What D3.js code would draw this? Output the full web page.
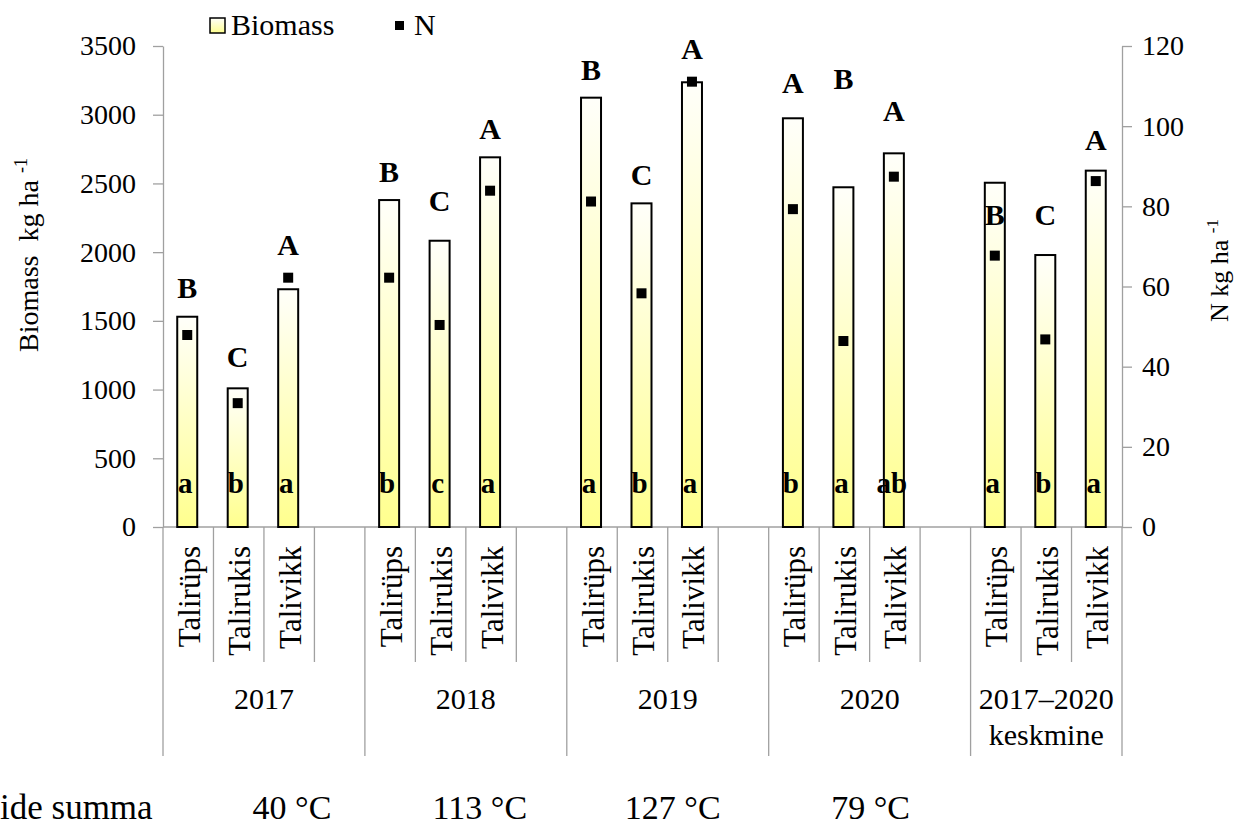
<!DOCTYPE html>
<html>
<head>
<meta charset="utf-8">
<script src="https://cdn.jsdelivr.net/npm/d3@7/dist/d3.min.js"></script>
<style>
    html, body { margin: 0; padding: 0; background: #fff; }
    svg { display: block; }
</style>
</head>
<body>
<div id="chart"></div>
<script>
// Data
const groups = ['2017', '2018', '2019', '2020', '2017–2020'];
const groupSub = ['', '', '', '', 'keskmine'];
const crops = ['Talirüps', 'Talirukis', 'Talivikk'];

// Biomass kg ha-1, one row per group
const biomass = [
    [1530, 1009, 1730],
    [2379, 2083, 2690],
    [3124, 2355, 3236],
    [2974, 2472, 2719],
    [2505, 1979, 2593]
];

// N kg ha-1
const nitrogen = [
    [47.9, 30.9, 62.2],
    [62.2, 50.4, 83.9],
    [81.2, 58.3, 111.1],
    [79.3, 46.4, 87.4],
    [67.7, 46.8, 86.3]
];

// Significance letters (upper = N, lower = biomass)
const upperLetters = [
    ['B', 'C', 'A'],
    ['B', 'C', 'A'],
    ['B', 'C', 'A'],
    ['A', 'B', 'A'],
    ['B', 'C', 'A']
];
// Level (biomass axis) where each upper letter sits
const upperAt = [
    [1739, 1239, 2052],
    [2585, 2372, 2901],
    [3330, 2561, 3483],
    [3229, 3258, 3027],
    [2270, 2275, 2816]
];
const lowerLetters = [
    ['a', 'b', 'a'],
    ['b', 'c', 'a'],
    ['a', 'b', 'a'],
    ['b', 'a', 'ab'],
    ['a', 'b', 'a']
];

const biomassTicks = d3.range(0, 3501, 500);
const nTicks = d3.range(0, 121, 20);
const tempLabels = ['40 °C', '113 °C', '127 °C', '79 °C'];
const tempTitle = 'ide summa';

(function() {
    'use strict';

    const W = 1240;
    const H = 828;
    const FONT = 'Liberation Serif';
    const plot = { left: 163, right: 1122, top: 46, bottom: 527 };
    const axisColor = '#a0a0a0';
    // x shift of each temperature label from its group centre
    const tempShift = [28, 14, 5, 1];

    const svg = d3.select('#chart')
        .append('svg')
        .attr('width', W)
        .attr('height', H)
        .attr('font-family', FONT);

    // bar gradient
    const defs = svg.append('defs');
    const grad = defs.append('linearGradient')
        .attr('id', 'barFill')
        .attr('x1', 0).attr('y1', 0)
        .attr('x2', 0).attr('y2', 1);
    grad.append('stop').attr('offset', '0%').attr('stop-color', '#fffffa');
    grad.append('stop').attr('offset', '100%').attr('stop-color', '#ffff8e');

    // slots: three crops per group plus a gap
    const slots = [];
    groups.forEach((g, gi) => {
        crops.forEach(c => slots.push(g + '|' + c));
        if (gi < groups.length - 1) slots.push(g + '|');
    });

    const x = d3.scaleBand()
        .domain(slots)
        .range([plot.left, plot.right])
        .padding(0);
    const bw = x.bandwidth();

    const yL = d3.scaleLinear().domain([0, 3500]).range([plot.bottom, plot.top]);
    const yR = d3.scaleLinear().domain([0, 120]).range([plot.bottom, plot.top]);

    const records = [];
    groups.forEach((g, gi) => {
        crops.forEach((c, ci) => {
            records.push({
                key: g + '|' + c,
                crop: c,
                biomass: biomass[gi][ci],
                n: nitrogen[gi][ci],
                upper: upperLetters[gi][ci],
                upperAt: upperAt[gi][ci],
                lower: lowerLetters[gi][ci]
            });
        });
    });

    const cx = d => x(d.key) + bw / 2 - 1;

    // helper for plain text
    function label(parent, px, py, size, str) {
        return parent.append('text')
            .attr('x', px)
            .attr('y', py)
            .attr('font-family', FONT)
            .attr('font-size', size)
            .attr('fill', '#000')
            .text(str);
    }

    /**
     * Axes
     */
    function drawAxes() {
        const left = svg.append('g')
            .attr('transform', `translate(${plot.left},0)`)
            .call(d3.axisLeft(yL).tickValues(biomassTicks).tickFormat(d3.format('d'))
                .tickSize(10).tickSizeOuter(0).tickPadding(17));
        const right = svg.append('g')
            .attr('transform', `translate(${plot.right},0)`)
            .call(d3.axisRight(yR).tickValues(nTicks).tickFormat(d3.format('d'))
                .tickSize(10).tickSizeOuter(0).tickPadding(10));

        [left, right].forEach(a => {
            a.attr('font-family', FONT).attr('font-size', 28);
            a.select('.domain').attr('stroke', axisColor).attr('stroke-width', 1.3);
            a.selectAll('.tick line').attr('stroke', axisColor).attr('stroke-width', 1.3);
            a.selectAll('.tick text').attr('fill', '#000');
        });

        // category baseline
        svg.append('line')
            .attr('x1', plot.left).attr('x2', plot.right)
            .attr('y1', plot.bottom).attr('y2', plot.bottom)
            .attr('stroke', axisColor).attr('stroke-width', 1.3);

        // separators below the axis
        const bounds = d3.range(slots.length + 1);
        svg.append('g')
            .selectAll('line')
            .data(bounds)
            .join('line')
            .attr('x1', i => plot.left + i * bw)
            .attr('x2', i => plot.left + i * bw)
            .attr('y1', plot.bottom)
            .attr('y2', i => (i % 4 === 0 || i === slots.length) ? 756 : 662)
            .attr('stroke', axisColor)
            .attr('stroke-width', 1.3);

        // crop names
        svg.append('g')
            .attr('font-family', FONT)
            .attr('font-size', 31)
            .selectAll('text')
            .data(records)
            .join('text')
            .attr('transform', d => `translate(${x(d.key) + bw / 2},546) rotate(-90)`)
            .attr('text-anchor', 'end')
            .attr('dy', '0.37em')
            .text(d => d.crop);

        // group names and temperature sums
        groups.forEach((g, gi) => {
            const x0 = x(g + '|' + crops[0]);
            const x1 = gi < groups.length - 1 ? x(g + '|') + bw : plot.right;
            const mid = (x0 + x1) / 2;
            label(svg, mid, 709, 30, g).attr('text-anchor', 'middle');
            if (groupSub[gi]) {
                label(svg, mid, 745, 30, groupSub[gi]).attr('text-anchor', 'middle');
            }
            if (tempLabels[gi]) {
                label(svg, mid + tempShift[gi], 819, 34, tempLabels[gi]).attr('text-anchor', 'middle');
            }
        });

        label(svg, 0, 819, 35, tempTitle);

        // axis titles
        const lt = svg.append('text')
            .attr('transform', 'translate(38,352) rotate(-90)')
            .attr('font-family', FONT)
            .attr('font-size', 28)
            .attr('xml:space', 'preserve');
        lt.append('tspan').text('Biomass  kg ha ');
        lt.append('tspan').attr('dy', -11).attr('font-size', 18).text('-1');

        const rt = svg.append('text')
            .attr('transform', 'translate(1228,322) rotate(-90)')
            .attr('font-family', FONT)
            .attr('font-size', 26)
            .attr('xml:space', 'preserve');
        rt.append('tspan').text('N kg ha ');
        rt.append('tspan').attr('dy', -10).attr('font-size', 17).text('-1');
    }

    /**
     * Bars, N points and letters
     */
    function drawMarks() {
        svg.append('g')
            .selectAll('rect')
            .data(records)
            .join('rect')
            .attr('x', d => cx(d) - 10)
            .attr('width', 20)
            .attr('y', d => yL(d.biomass))
            .attr('height', d => yL(0) - yL(d.biomass))
            .attr('fill', 'url(#barFill)')
            .attr('stroke', '#000')
            .attr('stroke-width', 2);

        svg.append('g')
            .selectAll('rect')
            .data(records)
            .join('rect')
            .attr('x', d => cx(d) - 5)
            .attr('y', d => yR(d.n) - 5)
            .attr('width', 10)
            .attr('height', 10)
            .attr('fill', '#000');

        svg.append('g')
            .attr('font-family', FONT)
            .attr('font-size', 30)
            .attr('font-weight', 'bold')
            .selectAll('text')
            .data(records)
            .join('text')
            .attr('x', d => cx(d))
            .attr('y', d => yL(d.upperAt))
            .attr('dy', '0.34em')
            .attr('text-anchor', 'middle')
            .text(d => d.upper);

        svg.append('g')
            .attr('font-family', FONT)
            .attr('font-size', 29)
            .attr('font-weight', 'bold')
            .selectAll('text')
            .data(records)
            .join('text')
            .attr('x', d => cx(d) - 2)
            .attr('y', yL(0) - 34)
            .attr('text-anchor', 'middle')
            .text(d => d.lower);
    }

    /**
     * Legend
     */
    function drawLegend() {
        const g = svg.append('g');
        g.append('rect')
            .attr('x', 210).attr('y', 18)
            .attr('width', 15).attr('height', 15)
            .attr('fill', 'url(#barFill)')
            .attr('stroke', '#000')
            .attr('stroke-width', 1.5);
        label(g, 231, 35, 30, 'Biomass');
        g.append('rect')
            .attr('x', 395).attr('y', 21)
            .attr('width', 9).attr('height', 9)
            .attr('fill', '#000');
        label(g, 414, 35, 30, 'N');
    }

    drawAxes();
    drawMarks();
    drawLegend();
})();
</script>
</body>
</html>
